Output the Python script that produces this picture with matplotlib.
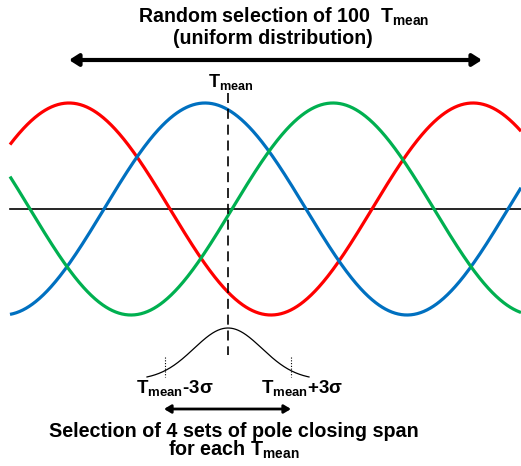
import numpy as np
import matplotlib
matplotlib.use("Agg")
import matplotlib.pyplot as plt
from matplotlib.patches import FancyArrowPatch

plt.rcParams['font.family'] = ['Liberation Sans', 'DejaVu Sans']
plt.rcParams['font.weight'] = 'bold'
plt.rcParams['mathtext.fontset'] = 'custom'
plt.rcParams['mathtext.rm'] = 'Liberation Sans:bold'
plt.rcParams['mathtext.it'] = 'Liberation Sans:bold'
plt.rcParams['mathtext.bf'] = 'Liberation Sans:bold'

# ---- data (schematic, in pixel-like units) ----
wave_names = ["red", "blue", "green"]
wave_peak_x = [69, 205, 333]          # x of first crest of each phase
wave_colors = ["#FF0000", "#0070C0", "#00B050"]
wave_period = 404
wave_amplitude = 106
wave_center = 209
x_start, x_end = 10, 521

t_mean = 228
sigma_tick_offset = 63                 # position of +-3 sigma markers
bell_halfwidth = 81
bell_peak_y = 328
bell_base_y = 380
bell_spread = 34

title_lines = ["Random selection of 100  $\\mathrm{T_{mean}}$", "(uniform distribution)"]
bottom_lines = ["Selection of 4 sets of pole closing span", "for each $\\mathrm{T_{mean}}$"]

W, H = 521, 466
fig = plt.figure(figsize=(W / 100, H / 100), dpi=100)
ax = fig.add_axes([0, 0, 1, 1])
ax.set_xlim(0, W)
ax.set_ylim(H, 0)
ax.axis('off')

# waves
x = np.linspace(x_start, x_end, 800)
for px, c in zip(wave_peak_x, wave_colors):
    y = wave_center - wave_amplitude * np.cos(2 * np.pi * (x - px) / wave_period)
    ax.plot(x, y, color=c, lw=2.3, solid_capstyle='butt', zorder=3)

# horizontal axis
ax.plot([x_start, x_end], [wave_center, wave_center], color='black', lw=1.2, zorder=2)

# dashed vertical at T_mean
ax.plot([t_mean, t_mean], [93, 355], color='black', lw=1.2,
        dashes=(6, 3.5), zorder=4)

# bell curve
xb = np.linspace(t_mean - bell_halfwidth, t_mean + bell_halfwidth, 300)
g = np.exp(-((xb - t_mean) ** 2) / (2 * bell_spread ** 2))
h = bell_base_y - bell_peak_y
ax.plot(xb, bell_base_y - h * g, color='black', lw=0.9)

# dotted sigma markers
for s in (-1, 1):
    xm = t_mean + s * sigma_tick_offset
    ax.plot([xm, xm], [357, 377], color='black', lw=0.8, dashes=(1, 1.5))

# top arrow
arr = FancyArrowPatch((69, 60), (482, 60), arrowstyle='<|-|>,head_length=0.55,head_width=0.35',
                      lw=3, color='black', mutation_scale=10, shrinkA=0, shrinkB=0)
ax.add_patch(arr)
# bottom arrow
arr2 = FancyArrowPatch((164, 409), (291, 409), arrowstyle='<|-|>,head_length=0.5,head_width=0.3',
                       lw=2, color='black', mutation_scale=8, shrinkA=0, shrinkB=0)
ax.add_patch(arr2)

# texts
ax.text(283.5, 22.5, title_lines[0], ha='center', va='baseline', fontsize=14.1, fontweight='bold')
ax.text(272.5, 44.5, title_lines[1], ha='center', va='baseline', fontsize=14.1, fontweight='bold')
ax.text(230.5, 87, "$\\mathrm{T_{mean}}$", ha='center', va='baseline', fontsize=13)
ax.text(174.5, 393, "$\\mathrm{T_{mean}}$-3σ", ha='center', va='baseline', fontsize=13.5, fontweight='bold')
ax.text(302, 393, "$\\mathrm{T_{mean}}$+3σ", ha='center', va='baseline', fontsize=13.5, fontweight='bold')
ax.text(233.5, 437, bottom_lines[0], ha='center', va='baseline', fontsize=14.2, fontweight='bold')
ax.text(233.5, 456, bottom_lines[1], ha='center', va='baseline', fontsize=14.2, fontweight='bold')

fig.savefig("out.png", dpi=100, facecolor='white')
